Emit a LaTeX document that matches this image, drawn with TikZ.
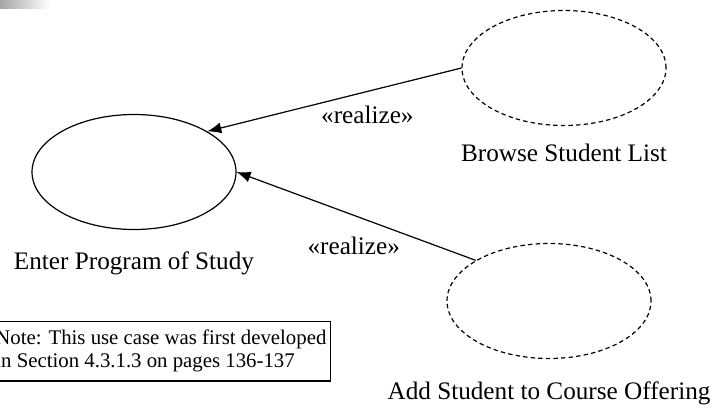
\documentclass[tikz,border=0pt]{standalone}
\usepackage{fontspec}
\setmainfont{Liberation Serif}
\usetikzlibrary{arrows.meta,positioning,shapes.geometric}

\begin{document}
\begin{tikzpicture}[x=0.5pt, y=-0.5pt,
  >={Latex[length=7pt,width=5.5pt]},
  uc/.style={draw, ellipse, line width=0.6pt,
    minimum width=102pt, minimum height=57.5pt},
  ucd/.style={uc, dash pattern=on 2.2pt off 1.6pt},
  lbl/.style={inner sep=0pt, font=\fontsize{12.6}{15}\selectfont},
  rel/.style={inner sep=0pt, font=\fontsize{12.6}{15}\selectfont}]
  \useasboundingbox (0,0) rectangle (716,407);
  \clip (0,0) rectangle (716,407);
  \shade[left color=gray!70, right color=white] (0,0) rectangle (50,8);
  % Use cases.
  \node[uc]  (enter)  at (134,172) {};
  \node[ucd] (browse) at (564,68)  {};
  \node[ucd] (add)    at (549,301) {};
  \node[lbl, below=10.5pt of enter]  (enterlbl)  {Enter Program of Study};
  \node[lbl, below=8.9pt of browse]  (browselbl) {Browse Student List};
  \node[lbl, below=11pt of add]      (addlbl)    {Add Student to Course Offering};
  % Realizations.
  \draw[->, line width=0.6pt] (browse.west) -- node[rel, pos=0.37, yshift=-11.8pt] (rel1) {«realize»} (enter.29);
  \draw[->, line width=0.6pt] (add.151) -- node[rel, pos=0.51, yshift=-15.5pt] (rel2) {«realize»} (enter.east);
  % Note.
  \node[draw, line width=0.6pt, align=left, anchor=north east,
    inner xsep=2pt, inner ysep=4.3pt,
    font=\fontsize{10.4}{11.5}\selectfont] (note) at (331,321)
    {Note: This use case was first developed\\in Section 4.3.1.3 on pages 136-137};
\end{tikzpicture}
\end{document}
